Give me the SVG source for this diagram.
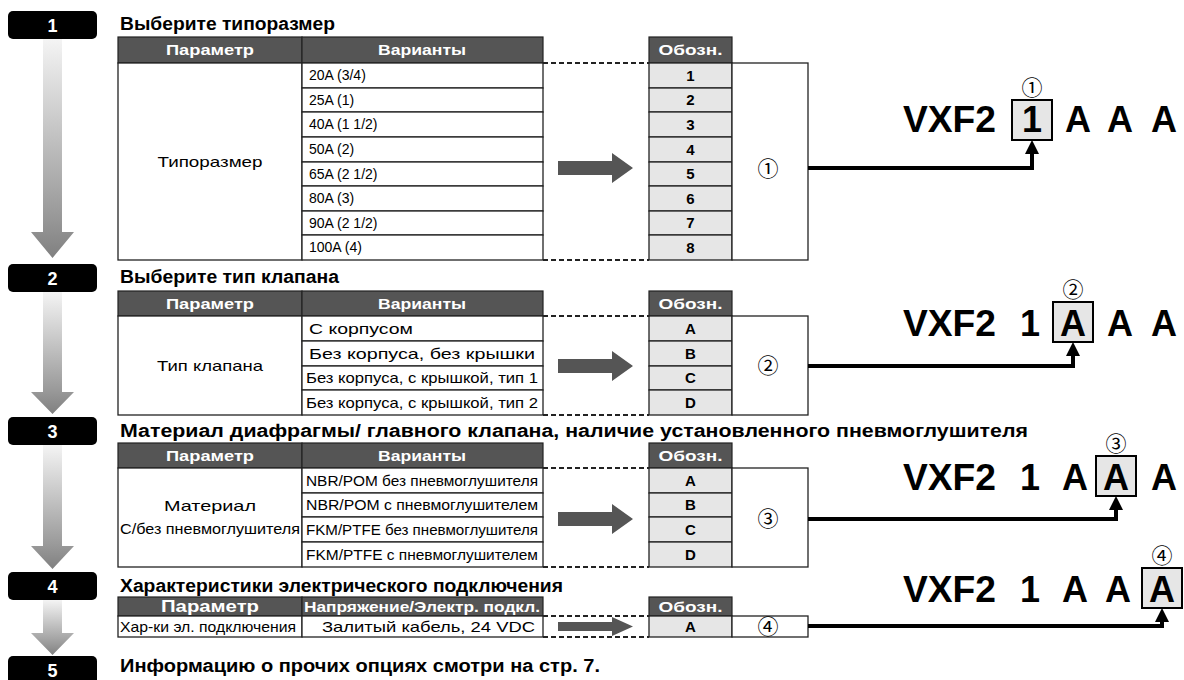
<svg xmlns="http://www.w3.org/2000/svg" width="1184" height="680" viewBox="0 0 1184 680">
<defs>
<linearGradient id="g" x1="0" y1="0" x2="0" y2="1"><stop offset="0" stop-color="#f4f4f4"/><stop offset="0.8" stop-color="#9a9a9a"/><stop offset="1" stop-color="#808080"/></linearGradient>
<marker id="ah" markerUnits="userSpaceOnUse" markerWidth="14" markerHeight="14" viewBox="0 0 14 14" refX="0" refY="7" orient="auto"><path d="M0,0 L14,7 L0,14 z" fill="#000"/></marker>
</defs>
<style>
.badge{fill:#000}
.bn{font-family:"Liberation Sans",Arial,sans-serif;font-weight:bold;font-size:18px;fill:#fff;text-anchor:middle}
.title{font-family:"Liberation Sans",Arial,sans-serif;font-weight:bold;font-size:18px;fill:#000}
.hd{fill:#555;stroke:#222;stroke-width:1.2}
.ht{font-family:"Liberation Sans",Arial,sans-serif;font-weight:bold;font-size:15px;fill:#fff;text-anchor:middle}
.cell{fill:#fff;stroke:#222;stroke-width:1.3}
.code{fill:#e6e6e6;stroke:#222;stroke-width:1.3}
.tx{font-family:"Liberation Sans",Arial,sans-serif;font-size:14px;fill:#000}
.tc{font-family:"Liberation Sans",Arial,sans-serif;font-size:15px;fill:#000}
.txs{font-family:"Liberation Sans",Arial,sans-serif;font-size:14.5px;fill:#000;text-anchor:middle}
.mid{text-anchor:middle}
.ct{font-family:"Liberation Sans",Arial,sans-serif;font-weight:bold;font-size:15px;fill:#000;text-anchor:middle}
.dash{stroke:#222;stroke-width:2;stroke-dasharray:5 3;fill:none}
.garrow{fill:#555}
.step{fill:url(#g)}
.conn{stroke:#000;stroke-width:4;fill:none;marker-end:url(#ah)}
.vx{font-family:"Liberation Sans",Arial,sans-serif;font-weight:bold;font-size:36px;fill:#000}
.vc{font-family:"Liberation Sans",Arial,sans-serif;font-weight:bold;font-size:36px;fill:#000;text-anchor:middle}
.sel{fill:#e6e6e6;stroke:#000;stroke-width:2}
.circ{font-family:"Noto Sans CJK JP","DejaVu Sans",sans-serif;font-size:21px;fill:#000;text-anchor:middle}
</style>

<!-- step badges and flow arrows -->
<g id="steps">
<path class="step" d="M43,39 H62 V232 H74 L52.5,258 L31,232 H43 Z"/>
<path class="step" d="M43,292 H62 V392 H74 L52.5,414 L31,392 H43 Z"/>
<path class="step" d="M43,445 H62 V546 H74 L52.5,569 L31,546 H43 Z"/>
<path class="step" d="M43,600 H62 V633 H74 L52.5,655 L31,633 H43 Z"/>
</g>
<g id="badge1"><rect class="badge" x="8" y="11" width="89" height="28" rx="5"/><text class="bn" x="52.5" y="32">1</text></g>
<g id="badge2"><rect class="badge" x="8" y="264" width="89" height="28" rx="5"/><text class="bn" x="52.5" y="285">2</text></g>
<g id="badge3"><rect class="badge" x="8" y="417" width="89" height="28" rx="5"/><text class="bn" x="52.5" y="438">3</text></g>
<g id="badge4"><rect class="badge" x="8" y="572" width="89" height="28" rx="5"/><text class="bn" x="52.5" y="593">4</text></g>
<g id="badge5"><rect class="badge" x="8" y="656" width="89" height="28" rx="5"/><text class="bn" x="52.5" y="677">5</text></g>

<!-- titles -->
<g id="titles">
<text class="title" x="120" y="30" textLength="215" lengthAdjust="spacingAndGlyphs">Выберите типоразмер</text>
<text class="title" x="120" y="283" textLength="219" lengthAdjust="spacingAndGlyphs">Выберите тип клапана</text>
<text class="title" x="120" y="437" textLength="908" lengthAdjust="spacingAndGlyphs">Материал диафрагмы/ главного клапана, наличие установленного пневмоглушителя</text>
<text class="title" x="120" y="592" textLength="443" lengthAdjust="spacingAndGlyphs">Характеристики электрического подключения</text>
<text class="title" x="120" y="672" textLength="480" lengthAdjust="spacingAndGlyphs">Информацию о прочих опциях смотри на стр. 7.</text>
</g>

<!-- table 1 -->
<g id="table1">
<rect class="hd" x="118" y="37" width="184" height="26"/>
<rect class="hd" x="302" y="37" width="241" height="26"/>
<text class="ht" x="210" y="55" textLength="88" lengthAdjust="spacingAndGlyphs">Параметр</text>
<text class="ht" x="422" y="55" textLength="88" lengthAdjust="spacingAndGlyphs">Варианты</text>
<rect class="cell" x="118" y="63" width="184" height="197"/>
<text class="tc mid" x="210" y="167" textLength="105" lengthAdjust="spacingAndGlyphs">Типоразмер</text>
<rect class="cell" x="302" y="63" width="241" height="25"/>
<rect class="cell" x="302" y="88" width="241" height="24"/>
<rect class="cell" x="302" y="112" width="241" height="25"/>
<rect class="cell" x="302" y="137" width="241" height="25"/>
<rect class="cell" x="302" y="162" width="241" height="24"/>
<rect class="cell" x="302" y="186" width="241" height="25"/>
<rect class="cell" x="302" y="211" width="241" height="24"/>
<rect class="cell" x="302" y="235" width="241" height="25"/>
<text class="tx" x="309" y="80">20A (3/4)</text>
<text class="tx" x="309" y="105">25A (1)</text>
<text class="tx" x="309" y="129">40A (1 1/2)</text>
<text class="tx" x="309" y="154">50A (2)</text>
<text class="tx" x="309" y="179">65A (2 1/2)</text>
<text class="tx" x="309" y="203">80A (3)</text>
<text class="tx" x="309" y="228">90A (2 1/2)</text>
<text class="tx" x="309" y="252">100A (4)</text>
<path class="dash" d="M543,63 H649 M543,260 H649"/>
<polygon class="garrow" points="558,161 612,161 612,153 633,168 612,183 612,175 558,175"/>
<rect class="hd" x="649" y="37" width="83" height="26"/>
<text class="ht" x="690.5" y="55" textLength="64" lengthAdjust="spacingAndGlyphs">Обозн.</text>
<rect class="code" x="649" y="63" width="83" height="25"/>
<rect class="code" x="649" y="88" width="83" height="24"/>
<rect class="code" x="649" y="112" width="83" height="25"/>
<rect class="code" x="649" y="137" width="83" height="25"/>
<rect class="code" x="649" y="162" width="83" height="24"/>
<rect class="code" x="649" y="186" width="83" height="25"/>
<rect class="code" x="649" y="211" width="83" height="24"/>
<rect class="code" x="649" y="235" width="83" height="25"/>
<text class="ct" x="690.5" y="81">1</text>
<text class="ct" x="690.5" y="105">2</text>
<text class="ct" x="690.5" y="130">3</text>
<text class="ct" x="690.5" y="155">4</text>
<text class="ct" x="690.5" y="179">5</text>
<text class="ct" x="690.5" y="204">6</text>
<text class="ct" x="690.5" y="228">7</text>
<text class="ct" x="690.5" y="253">8</text>
<rect class="cell" x="732" y="63" width="76" height="197"/>
<text class="circ" x="768" y="176">①</text>
</g>

<!-- table 2 -->
<g id="table2">
<rect class="hd" x="118" y="291" width="184" height="25"/>
<rect class="hd" x="302" y="291" width="241" height="25"/>
<text class="ht" x="210" y="309" textLength="88" lengthAdjust="spacingAndGlyphs">Параметр</text>
<text class="ht" x="422" y="309" textLength="88" lengthAdjust="spacingAndGlyphs">Варианты</text>
<rect class="cell" x="118" y="316" width="184" height="99"/>
<text class="tc mid" x="210" y="371" textLength="106" lengthAdjust="spacingAndGlyphs">Тип клапана</text>
<rect class="cell" x="302" y="316" width="241" height="25"/>
<rect class="cell" x="302" y="341" width="241" height="25"/>
<rect class="cell" x="302" y="366" width="241" height="24"/>
<rect class="cell" x="302" y="390" width="241" height="25"/>
<text class="tc" x="309" y="334" textLength="104" lengthAdjust="spacingAndGlyphs">С корпусом</text>
<text class="tc" x="309" y="359" textLength="226" lengthAdjust="spacingAndGlyphs">Без корпуса, без крышки</text>
<text class="txs" x="422" y="383" textLength="232" lengthAdjust="spacingAndGlyphs">Без корпуса, с крышкой, тип 1</text>
<text class="txs" x="422" y="408" textLength="232" lengthAdjust="spacingAndGlyphs">Без корпуса, с крышкой, тип 2</text>
<path class="dash" d="M543,316 H649 M543,415 H649"/>
<polygon class="garrow" points="558,359 612,359 612,351 633,366 612,381 612,373 558,373"/>
<rect class="hd" x="649" y="291" width="83" height="25"/>
<text class="ht" x="690.5" y="309" textLength="64" lengthAdjust="spacingAndGlyphs">Обозн.</text>
<rect class="code" x="649" y="316" width="83" height="25"/>
<rect class="code" x="649" y="341" width="83" height="25"/>
<rect class="code" x="649" y="366" width="83" height="24"/>
<rect class="code" x="649" y="390" width="83" height="25"/>
<text class="ct" x="690.5" y="334">A</text>
<text class="ct" x="690.5" y="359">B</text>
<text class="ct" x="690.5" y="383">C</text>
<text class="ct" x="690.5" y="408">D</text>
<rect class="cell" x="732" y="316" width="76" height="99"/>
<text class="circ" x="768" y="373">②</text>
</g>

<!-- table 3 -->
<g id="table3">
<rect class="hd" x="118" y="443" width="184" height="25"/>
<rect class="hd" x="302" y="443" width="241" height="25"/>
<text class="ht" x="210" y="461" textLength="88" lengthAdjust="spacingAndGlyphs">Параметр</text>
<text class="ht" x="422" y="461" textLength="88" lengthAdjust="spacingAndGlyphs">Варианты</text>
<rect class="cell" x="118" y="468" width="184" height="99"/>
<text class="tc mid" x="210" y="511" textLength="92" lengthAdjust="spacingAndGlyphs">Материал</text>
<text class="tc mid" x="210" y="534" textLength="180" lengthAdjust="spacingAndGlyphs">С/без пневмоглушителя</text>
<rect class="cell" x="302" y="468" width="241" height="25"/>
<rect class="cell" x="302" y="493" width="241" height="24"/>
<rect class="cell" x="302" y="517" width="241" height="25"/>
<rect class="cell" x="302" y="542" width="241" height="25"/>
<text class="txs" x="422" y="486" textLength="232" lengthAdjust="spacingAndGlyphs">NBR/POM без пневмоглушителя</text>
<text class="txs" x="422" y="510" textLength="232" lengthAdjust="spacingAndGlyphs">NBR/POM с пневмоглушителем</text>
<text class="txs" x="422" y="535" textLength="232" lengthAdjust="spacingAndGlyphs">FKM/PTFE без пневмоглушителя</text>
<text class="txs" x="422" y="560" textLength="232" lengthAdjust="spacingAndGlyphs">FKM/PTFE с пневмоглушителем</text>
<path class="dash" d="M543,468 H649 M543,567 H649"/>
<polygon class="garrow" points="558,512 612,512 612,504 633,519 612,534 612,526 558,526"/>
<rect class="hd" x="649" y="443" width="83" height="25"/>
<text class="ht" x="690.5" y="461" textLength="64" lengthAdjust="spacingAndGlyphs">Обозн.</text>
<rect class="code" x="649" y="468" width="83" height="25"/>
<rect class="code" x="649" y="493" width="83" height="24"/>
<rect class="code" x="649" y="517" width="83" height="25"/>
<rect class="code" x="649" y="542" width="83" height="25"/>
<text class="ct" x="690.5" y="486">A</text>
<text class="ct" x="690.5" y="510">B</text>
<text class="ct" x="690.5" y="535">C</text>
<text class="ct" x="690.5" y="560">D</text>
<rect class="cell" x="732" y="468" width="76" height="99"/>
<text class="circ" x="768" y="526">③</text>
</g>

<!-- table 4 -->
<g id="table4">
<rect class="hd" x="118" y="597" width="184" height="19"/>
<rect class="hd" x="302" y="597" width="241" height="19"/>
<text class="ht" x="210" y="612" style="font-size:16px" textLength="98" lengthAdjust="spacingAndGlyphs">Параметр</text>
<text class="ht" x="422" y="612" textLength="236" lengthAdjust="spacingAndGlyphs">Напряжение/Электр. подкл.</text>
<rect class="cell" x="118" y="616" width="184" height="21"/>
<rect class="cell" x="302" y="616" width="241" height="21"/>
<text class="tc" x="120" y="632" style="font-size:14.5px" textLength="176" lengthAdjust="spacingAndGlyphs">Хар-ки эл. подключения</text>
<text class="tc" x="322" y="632" textLength="213" lengthAdjust="spacingAndGlyphs">Залитый кабель, 24 VDC</text>
<path class="dash" d="M543,616 H649 M543,637 H649"/>
<polygon class="garrow" points="558,622 612,622 612,617 633,626.5 612,636 612,631 558,631"/>
<rect class="hd" x="649" y="597" width="83" height="19"/>
<text class="ht" x="690.5" y="612" textLength="64" lengthAdjust="spacingAndGlyphs">Обозн.</text>
<rect class="code" x="649" y="616" width="83" height="21"/>
<text class="ct" x="690.5" y="632">A</text>
<rect class="cell" x="732" y="616" width="76" height="21"/>
<text class="circ" x="768" y="634">④</text>
</g>

<!-- part numbers -->
<g id="code1">
<text class="vx" x="903" y="132" textLength="93" lengthAdjust="spacingAndGlyphs">VXF2</text>
<rect class="sel" x="1012" y="100" width="40" height="40"/>
<text class="vc" x="1032" y="132">1</text>
<text class="vc" x="1078" y="132">A</text>
<text class="vc" x="1120" y="132">A</text>
<text class="vc" x="1164" y="132">A</text>
<text class="circ" x="1032" y="95">①</text>
</g>
<g id="code2">
<text class="vx" x="903" y="336" textLength="93" lengthAdjust="spacingAndGlyphs">VXF2</text>
<text class="vc" x="1030" y="336">1</text>
<rect class="sel" x="1053" y="302" width="40" height="40"/>
<text class="vc" x="1073" y="336">A</text>
<text class="vc" x="1120" y="336">A</text>
<text class="vc" x="1164" y="336">A</text>
<text class="circ" x="1073" y="297">②</text>
</g>
<g id="code3">
<text class="vx" x="903" y="490" textLength="93" lengthAdjust="spacingAndGlyphs">VXF2</text>
<text class="vc" x="1030" y="490">1</text>
<text class="vc" x="1075" y="490">A</text>
<rect class="sel" x="1096" y="456" width="40" height="40"/>
<text class="vc" x="1116" y="490">A</text>
<text class="vc" x="1164" y="490">A</text>
<text class="circ" x="1116" y="451">③</text>
</g>
<g id="code4">
<text class="vx" x="903" y="602" textLength="93" lengthAdjust="spacingAndGlyphs">VXF2</text>
<text class="vc" x="1030" y="602">1</text>
<text class="vc" x="1075" y="602">A</text>
<text class="vc" x="1118" y="602">A</text>
<rect class="sel" x="1142" y="568" width="40" height="40"/>
<text class="vc" x="1162" y="602">A</text>
<text class="circ" x="1162" y="563">④</text>
</g>

<!-- connectors -->
<g id="connectors">
<path class="conn" d="M808,168 H1032 V154"/>
<path class="conn" d="M808,366 H1073 V356"/>
<path class="conn" d="M808,519 H1116 V510"/>
<path class="conn" d="M808,626 H1162 V622"/>
</g>
</svg>
